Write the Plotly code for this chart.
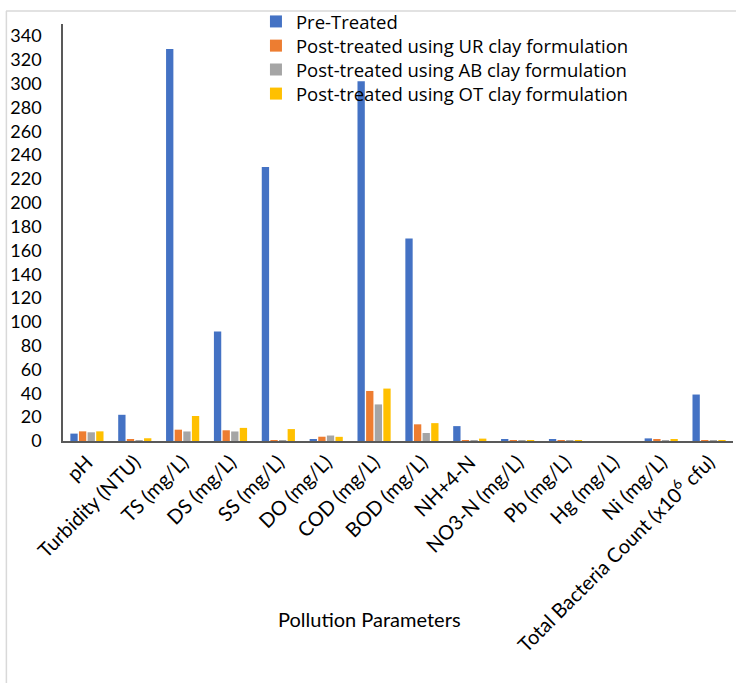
import plotly.graph_objects as go

categories = ["pH", "Turbidity (NTU)", "TS (mg/L)", "DS (mg/L)", "SS (mg/L)", "DO (mg/L)",
              "COD (mg/L)", "BOD (mg/L)", "NH+4-N", "NO3-N (mg/L)", "Pb (mg/L)", "Hg (mg/L)",
              "Ni (mg/L)", "Total Bacteria Count (x10<sup>6</sup> cfu)"]
pre_treated = [6.2, 22, 329, 92, 230, 1, 302, 170, 12.5, 1.5, 1, 0, 2.2, 39]
ur_clay = [8.1, 1.5, 9.5, 9, 0.5, 3.6, 42, 14, 0.5, 0.3, 0.2, 0, 1.5, 0.3]
ab_clay = [7.3, 0.5, 8, 8, 0.1, 4.6, 30.7, 6.7, 0.1, 0.2, 0.2, 0, 0.5, 0.1]
ot_clay = [8.1, 2.3, 21, 11, 10, 3.5, 44, 15, 2, 0.3, 0.2, 0, 1, 0.2]
x_title = "Pollution Parameters"

series = [
    ("Pre-Treated", pre_treated, "#4472C4"),
    ("Post-treated using UR clay formulation", ur_clay, "#ED7D31"),
    ("Post-treated using AB clay formulation", ab_clay, "#A5A5A5"),
    ("Post-treated using OT clay formulation", ot_clay, "#FFC000"),
]

FONT = "Lato, Open Sans, sans-serif"
LEG_FONT = dict(size=18.5, family="Open Sans, sans-serif", color="#000000")
legend_names = ["legend", "legend2", "legend3", "legend4"]
legend_y = [1.005, 0.947, 0.890, 0.832]

fig = go.Figure()
for (name, vals, col), lg in zip(series, legend_names):
    fig.add_trace(go.Bar(x=categories, y=vals, name=name, marker_color=col,
                         marker_line_width=0, legend=lg))

legend_layout = {}
for lg, ly in zip(legend_names, legend_y):
    legend_layout[lg] = dict(x=0.288, y=ly, xanchor="left", yanchor="middle",
                             bgcolor="rgba(0,0,0,0)", font=LEG_FONT,
                             itemwidth=30, itemsizing="constant")

fig.update_layout(
    width=736, height=683,
    margin=dict(l=63, r=3, t=24, b=242, autoexpand=False),
    paper_bgcolor="white", plot_bgcolor="white",
    font=dict(family=FONT, color="#000000", size=18),
    barmode="group", bargap=0.28, bargroupgap=0.15,
    showlegend=True,
    shapes=[
        dict(type="line", xref="paper", yref="paper", x0=-0.085, x1=1.2, y0=1.031, y1=1.031,
             line=dict(color="#D9D9D9", width=1.5)),
        dict(type="line", xref="paper", yref="paper", x0=-0.0845, x1=-0.0845, y0=1.031, y1=-0.65,
             line=dict(color="#D9D9D9", width=1.5)),
    ],
    annotations=[
        dict(text=x_title, xref="paper", yref="paper", x=0.458, y=-0.427,
             xanchor="center", yanchor="middle", showarrow=False,
             font=dict(size=20, family=FONT, color="#000000")),
    ],
    **legend_layout,
)
fig.update_xaxes(
    tickangle=-45, tickfont=dict(size=20, family=FONT), automargin=False,
    showline=True, linecolor="#595959", linewidth=1.5, ticks="",
    showgrid=False,
)
fig.update_yaxes(
    range=[0, 350], tickvals=list(range(0, 341, 20)), automargin=False,
    showline=True, linecolor="#595959", linewidth=1.5, ticks="",
    showgrid=False, zeroline=False, tickfont=dict(size=18, family=FONT),
    ticklabelstandoff=16,
)
fig.write_html("out.html", config={"displayModeBar": False},
               post_script="document.body.style.margin='0';document.body.style.padding='0';")
